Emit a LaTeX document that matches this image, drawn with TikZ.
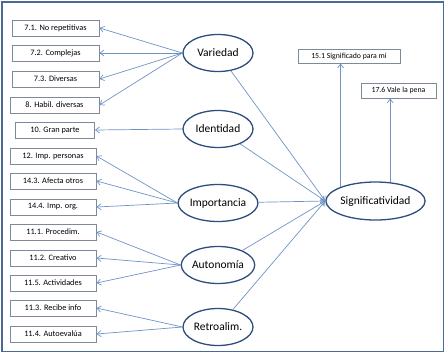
\documentclass[tikz,border=0pt]{standalone}
\usepackage{fontspec}
\setmainfont{Carlito}
\usetikzlibrary{arrows.meta,shapes.geometric}
\definecolor{frameblue}{HTML}{4A6A94}
\definecolor{boxgray}{HTML}{7F8A99}
\definecolor{lineblue}{HTML}{6F93C6}
\definecolor{ellblue}{HTML}{2F4E7E}
\tikzset{
  itembox/.style={draw=boxgray,line width=0.9pt,fill=white,minimum height=16pt,inner sep=0pt,font=\fontsize{8.3}{9}\selectfont},
  factor/.style={ellipse,draw=ellblue,line width=1.3pt,fill=white,minimum width=70pt,minimum height=37pt,inner sep=0pt,font=\fontsize{11.5}{13}\selectfont},
  link/.style={draw=lineblue,line width=0.7pt,-{Straight Barb[length=4pt,width=6pt]}}
}
\begin{document}
\begin{tikzpicture}[x=1pt,y=-1pt]
\useasboundingbox (0,0) rectangle (446,354);
\draw[frameblue,line width=1.8pt] (2,2) rectangle (443.5,351.5);
% left boxes
\node[itembox,minimum width=87pt] (b71) at (55.5,28) {7.1. No repetitivas};
\node[itembox,minimum width=87pt] (b72) at (55.5,53) {7.2. Complejas};
\node[itembox,minimum width=87pt] (b73) at (55.5,79) {7.3. Diversas};
\node[itembox,minimum width=89pt] (b8) at (54.5,105) {8. Habil. diversas};
\node[itembox,minimum width=79pt] (b10) at (55,130) {10. Gran parte};
\node[itembox,minimum width=86pt] (b12) at (53,156) {12. Imp. personas};
\node[itembox,minimum width=86pt] (b143) at (53,181) {14.3. Afecta otros};
\node[itembox,minimum width=86pt] (b144) at (53,207) {14.4. Imp. org.};
\node[itembox,minimum width=86pt] (b111) at (53,232) {11.1. Procedim.};
\node[itembox,minimum width=86pt] (b112) at (53,258) {11.2. Creativo};
\node[itembox,minimum width=86pt] (b115) at (53,283) {11.5. Actividades};
\node[itembox,minimum width=86pt] (b113) at (53,308) {11.3. Recibe info};
\node[itembox,minimum width=86pt] (b114) at (53,334) {11.4. Autoevalúa};
% top right boxes
\node[itembox,minimum width=102pt,minimum height=14pt,font=\fontsize{7.8}{9}\selectfont] (b151) at (349,56) {15.1 Significado para mi};
\node[itembox,minimum width=75pt,minimum height=15pt,font=\fontsize{7.8}{9}\selectfont] (b176) at (398.5,90.5) {17.6 Vale la pena};
% factors
\node[factor] (var) at (218,53) {Variedad};
\node[factor] (ide) at (218,129) {Identidad};
\node[factor] (imp) at (218,203) {Importancia};
\node[factor] (aut) at (218,265) {Autonomía};
\node[factor] (ret) at (218,327) {Retroalim.};
\node[factor,minimum width=93pt,minimum height=38pt] (sig) at (375.5,201) {Significatividad};
% links to items
\foreach \b in {b71,b72,b73,b8} \draw[link] (var.west) -- (\b.east);
\draw[link] (ide.west) -- (b10.east);
\foreach \b in {b12,b143,b144} \draw[link] (imp.west) -- (\b.east);
\foreach \b in {b111,b112,b115} \draw[link] (aut.west) -- (\b.east);
\foreach \b in {b113,b114} \draw[link] (ret.west) -- (\b.east);
% links to significatividad
\draw[link] (var) -- (sig.west);
\draw[link] (ide) -- (sig.west);
\draw[link] (imp) -- (sig.west);
\draw[link] (aut) -- (sig.west);
\draw[link] (ret) -- (sig.west);
% upward links
\draw[link] (sig.158) -- (sig.158 |- b151.south);
\draw[link] (sig.52) -- (sig.52 |- b176.south);
\end{tikzpicture}
\end{document}
